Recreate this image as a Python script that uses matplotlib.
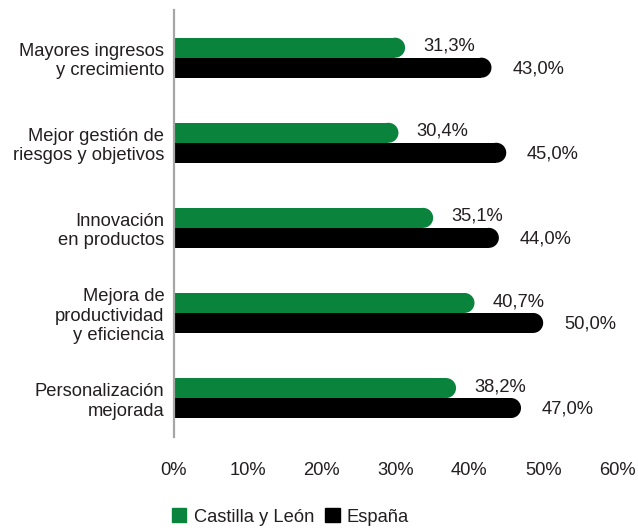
import numpy as np
import matplotlib
matplotlib.use("Agg")
import matplotlib.pyplot as plt
from matplotlib.patches import Ellipse, Patch

plt.rcParams['font.family'] = ['Liberation Sans', 'DejaVu Sans']

# data
categories = ["Mayores ingresos\ny crecimiento",
              "Mejor gestión de\nriesgos y objetivos",
              "Innovación\nen productos",
              "Mejora de\nproductividad\ny eficiencia",
              "Personalización\nmejorada"]
castilla = [31.3, 30.4, 35.1, 40.7, 38.2]
espana = [43.0, 45.0, 44.0, 50.0, 47.0]
series_names = ["Castilla y León", "España"]
xticks = [0, 10, 20, 30, 40, 50, 60]

green = "#0a843c"
black = "#000000"
txt = "#231f20"
fs = 13.2

fig = plt.figure(figsize=(6.38, 5.28), dpi=100)
ax = fig.add_axes([0.2727, 0.172, 0.6944, 0.809])

ax.set_xlim(0, 60)
ax.set_ylim(4.46, -0.56)

y = np.arange(len(categories))
h = 0.235

# radius of rounded end in data units (x) -> half the bar height in pixels
ax_w_px = 0.6944 * 638
ax_h_px = 0.809 * 528
bar_px = h * ax_h_px / (4.46 + 0.56)
r_x = (bar_px / 2) * 60 / ax_w_px


def rounded_bar(yc, val, color):
    ax.barh(yc, val - r_x, height=h, color=color, linewidth=0)
    ax.add_patch(Ellipse((val - r_x, yc), 2 * r_x, h, color=color, linewidth=0))


for i in range(len(categories)):
    rounded_bar(y[i] - h / 2, castilla[i], green)
    rounded_bar(y[i] + h / 2, espana[i], black)
    ax.annotate(f"{castilla[i]:.1f}%".replace(".", ","), (castilla[i], y[i] - h / 2),
                xytext=(13, 1), textcoords="offset points", ha="left", va="center",
                fontsize=fs, color=txt)
    ax.annotate(f"{espana[i]:.1f}%".replace(".", ","), (espana[i], y[i] + h / 2),
                xytext=(15, -1), textcoords="offset points", ha="left", va="center",
                fontsize=fs, color=txt)

ax.set_yticks(y)
ax.set_yticklabels(categories, fontsize=fs, color=txt, linespacing=1.2)
ax.set_xticks(xticks)
ax.set_xticklabels([f"{t}%" for t in xticks], fontsize=fs, color=txt)
ax.tick_params(axis="both", length=0)
ax.tick_params(axis="x", pad=18)
ax.tick_params(axis="y", pad=7)

for s in ["top", "right", "bottom"]:
    ax.spines[s].set_visible(False)
ax.spines["left"].set_color("#a6a6a6")
ax.spines["left"].set_linewidth(1.6)

handles = [Patch(color=green), Patch(color=black)]
fig.legend(handles, series_names, loc="lower center", bbox_to_anchor=(0.455, -0.027),
           ncol=2, frameon=False, fontsize=fs, handlelength=0.8, handleheight=0.8,
           handletextpad=0.4, columnspacing=0.6, labelcolor=txt)

fig.savefig("out.png", dpi=100)
